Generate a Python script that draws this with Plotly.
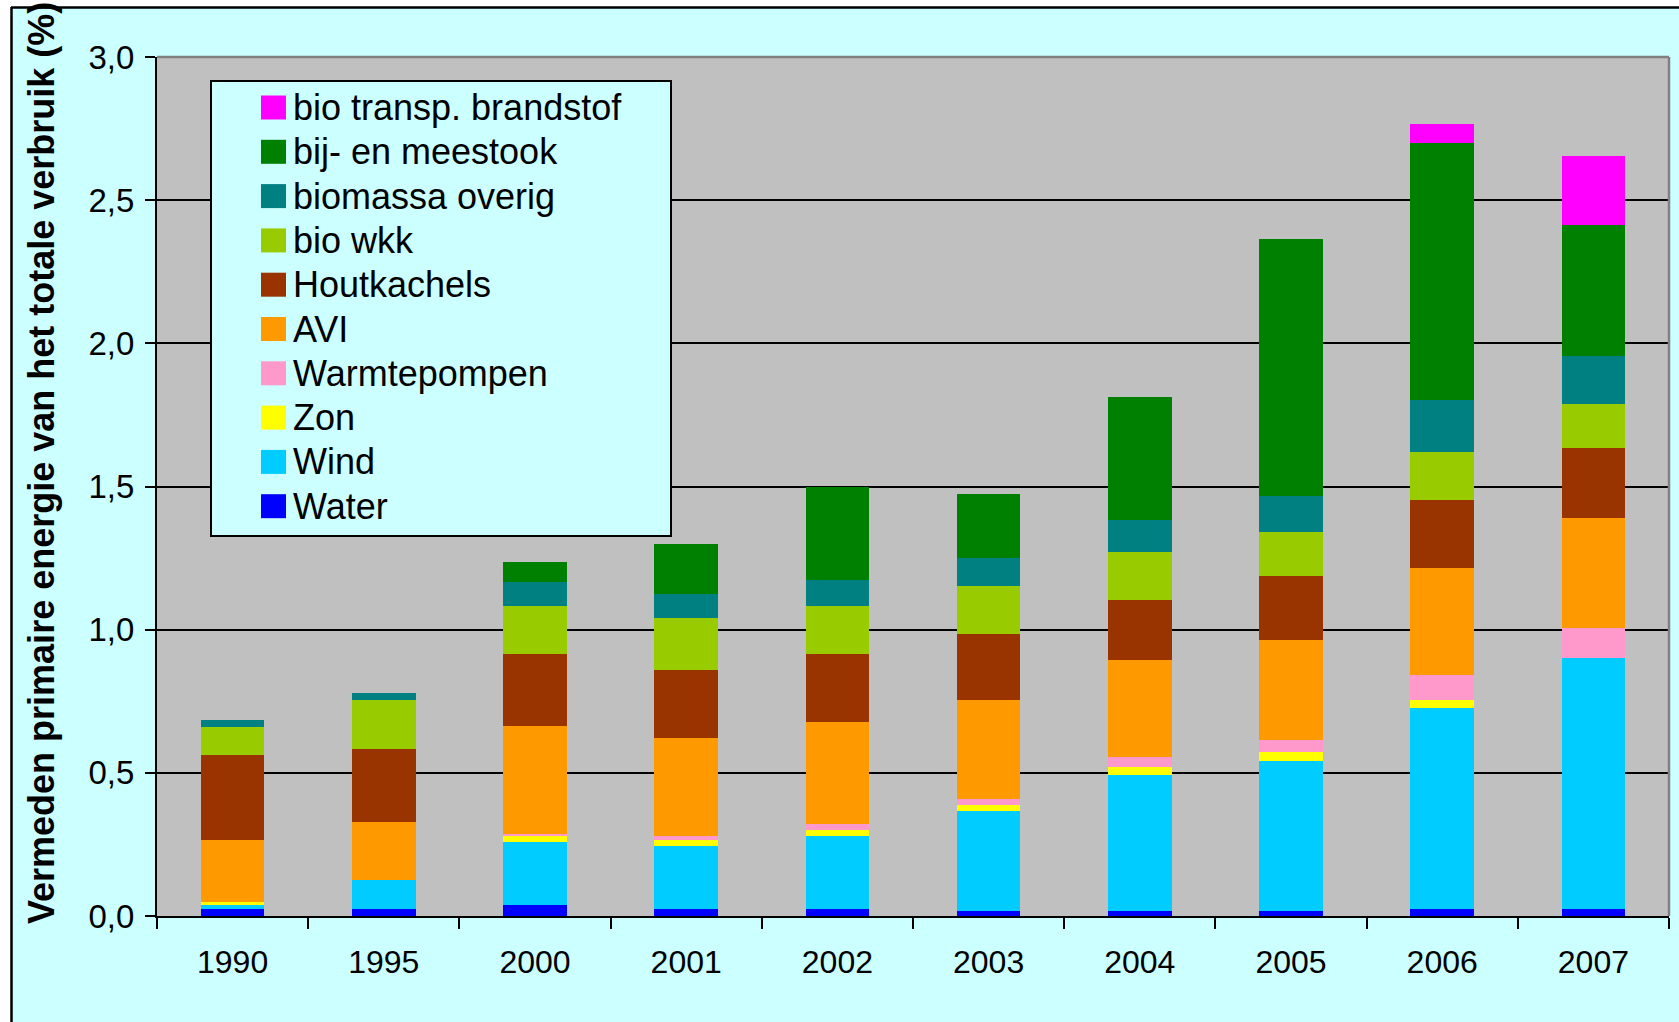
import plotly.graph_objects as go

# ---------------- data ----------------
years = ["1990", "1995", "2000", "2001", "2002", "2003", "2004", "2005", "2006", "2007"]

water = [0.026, 0.026, 0.040, 0.026, 0.026, 0.019, 0.019, 0.019, 0.026, 0.026]
wind = [0.014, 0.099, 0.219, 0.219, 0.254, 0.346, 0.472, 0.521, 0.702, 0.876]
zon = [0.008, 0.0, 0.021, 0.021, 0.021, 0.021, 0.028, 0.034, 0.028, 0.0]
warmtepompen = [0.0, 0.0, 0.007, 0.014, 0.021, 0.021, 0.035, 0.042, 0.084, 0.105]
avi = [0.218, 0.204, 0.377, 0.341, 0.356, 0.348, 0.341, 0.349, 0.376, 0.384]
houtkachels = [0.296, 0.255, 0.252, 0.239, 0.238, 0.231, 0.209, 0.223, 0.237, 0.244]
bio_wkk = [0.099, 0.169, 0.168, 0.182, 0.168, 0.168, 0.168, 0.153, 0.167, 0.153]
biomassa_overig = [0.025, 0.027, 0.084, 0.084, 0.091, 0.098, 0.111, 0.126, 0.181, 0.167]
bij_meestook = [0.0, 0.0, 0.067, 0.173, 0.325, 0.221, 0.429, 0.896, 0.899, 0.460]
bio_transp = [0.0, 0.0, 0.0, 0.0, 0.0, 0.0, 0.0, 0.0, 0.067, 0.240]

series_names = ["Water", "Wind", "Zon", "Warmtepompen", "AVI", "Houtkachels",
                "bio wkk", "biomassa overig", "bij- en meestook", "bio transp. brandstof"]
series_values = [water, wind, zon, warmtepompen, avi, houtkachels,
                 bio_wkk, biomassa_overig, bij_meestook, bio_transp]
series_colors = ["#0000FF", "#00CCFF", "#FFFF00", "#FF99CC", "#FF9900", "#993300",
                 "#99CC00", "#008080", "#008000", "#FF00FF"]

y_tickvals = [0.0, 0.5, 1.0, 1.5, 2.0, 2.5, 3.0]
y_title = "Vermeden primaire energie van het totale verbruik (%)"

# ---------------- layout geometry (pixels) ----------------
W, H = 1679, 1022
L, R, T, B = 157, 10, 57, 106
PW, PH = W - L - R, H - T - B


def px_x(x):
    return (x - L) / PW


def px_y(y):
    return (H - B - y) / PH


FONT = "Liberation Sans, Arial, sans-serif"

fig = go.Figure()
for name, vals, col in zip(series_names, series_values, series_colors):
    fig.add_trace(go.Bar(x=years, y=vals, name=name, marker_color=col,
                         marker_line_width=0, showlegend=False))

shapes = []
annotations = []

# white strips outside the outer frame + outer frame lines
shapes.append(dict(type="rect", xref="paper", yref="paper", layer="above",
                   x0=px_x(-20), x1=px_x(W + 20), y0=px_y(7), y1=px_y(-20),
                   fillcolor="white", line_width=0))
shapes.append(dict(type="rect", xref="paper", yref="paper", layer="above",
                   x0=px_x(-20), x1=px_x(11), y0=px_y(H + 20), y1=px_y(-20),
                   fillcolor="white", line_width=0))
shapes.append(dict(type="line", xref="paper", yref="paper", layer="above",
                   x0=px_x(11), x1=px_x(W + 20), y0=px_y(7.5), y1=px_y(7.5),
                   line=dict(color="black", width=2.5)))
shapes.append(dict(type="line", xref="paper", yref="paper", layer="above",
                   x0=px_x(11.5), x1=px_x(11.5), y0=px_y(7), y1=px_y(H + 20),
                   line=dict(color="black", width=2.5)))

# gray plot-area border on top and right
shapes.append(dict(type="line", xref="paper", yref="paper", layer="above",
                   x0=0, x1=1, y0=1, y1=1, line=dict(color="#808080", width=2.5)))
shapes.append(dict(type="line", xref="paper", yref="paper", layer="above",
                   x0=1, x1=1, y0=0, y1=1, line=dict(color="#808080", width=2.5)))

# legend box
shapes.append(dict(type="rect", xref="paper", yref="paper", layer="above",
                   x0=px_x(211), x1=px_x(671), y0=px_y(536), y1=px_y(81),
                   fillcolor="#CCFFFF", line=dict(color="black", width=2)))

legend_first, legend_step = 107.5, 44.3
for i, (name, col) in enumerate(zip(series_names[::-1], series_colors[::-1])):
    yc = legend_first + i * legend_step
    shapes.append(dict(type="rect", xref="paper", yref="paper", layer="above",
                       x0=px_x(261), x1=px_x(286), y0=px_y(yc + 12), y1=px_y(yc - 12),
                       fillcolor=col, line_width=0))
    annotations.append(dict(xref="paper", yref="paper", x=px_x(291), y=px_y(yc),
                            xanchor="left", yanchor="middle", showarrow=False,
                            text=name, font=dict(family=FONT, size=36, color="black")))

# y-axis title
annotations.append(dict(xref="paper", yref="paper", x=px_x(41), y=px_y(463),
                        xanchor="center", yanchor="middle", showarrow=False,
                        textangle=-90, text=y_title,
                        font=dict(family=FONT, size=36, color="black", weight="bold")))

fig.update_layout(
    width=W, height=H,
    margin=dict(l=L, r=R, t=T, b=B, pad=0),
    paper_bgcolor="#CCFFFF",
    plot_bgcolor="#C0C0C0",
    barmode="stack",
    bargap=0.58,
    separators=", ",
    showlegend=False,
    shapes=shapes,
    annotations=annotations,
    font=dict(family=FONT, color="black"),
)
fig.update_xaxes(
    type="category", tickson="boundaries", ticks="outside", ticklen=11,
    tickwidth=2, tickcolor="black", showline=True, linecolor="black", linewidth=2,
    showgrid=False, tickfont=dict(family=FONT, size=32, color="black"),
    ticklabelstandoff=17,
)
fig.update_yaxes(
    range=[0, 3], tickvals=y_tickvals, tickformat=".1f", ticks="outside", ticklen=10,
    tickwidth=2, tickcolor="black", showline=True, linecolor="black", linewidth=2,
    showgrid=True, gridcolor="black", gridwidth=1.5, zeroline=False,
    tickfont=dict(family=FONT, size=33, color="black"), ticklabelstandoff=4,
)

fig.write_html("out.html", config={"displayModeBar": False},
               post_script="document.body.style.margin='0';")
